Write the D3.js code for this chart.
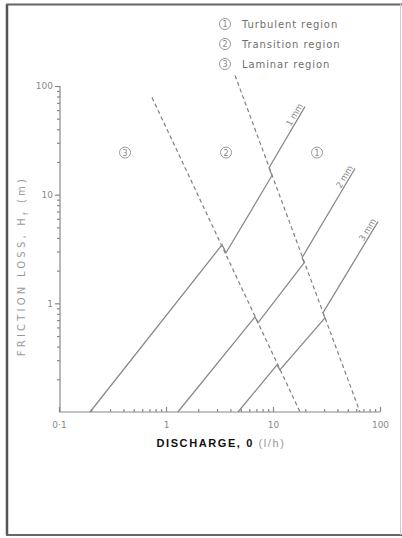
<!DOCTYPE html>
<meta charset="utf-8">
<script src="https://cdn.jsdelivr.net/npm/d3@7"></script>
<style>
body { margin: 0; background: #fff; }
text { font-family: "DejaVu Sans", sans-serif; fill: #777; }
.pipe { fill: none; stroke: #8a8a8a; stroke-width: 1.3px; }
.bound { fill: none; stroke: #808080; stroke-width: 1.2px; stroke-dasharray: 4,3; }
.axis path, .axis line { stroke: #888; stroke-width: 1.2px; }
.axis text { fill: #8a8a8a; font-size: 9px; font-family: "DejaVu Sans", sans-serif; }
</style>
<body>
<script>

// axis ticks
var xMajor = [0.1, 1, 10, 100];
var xLabels = ["0·1", "1", "10", "100"];
var yMajor = [1, 10, 100];
var yLabels = ["1", "10", "100"];

// pipe curves, [discharge l/h, friction loss m]
var pipe1mm = [[0.195, 0.1], [3.34, 3.46], [3.64, 2.92], [9.79, 15.0], [9.18, 17.7], [19.9, 64.7]];
var pipe2mm = [[1.29, 0.1], [6.79, 0.751], [7.24, 0.661], [19.5, 2.36], [18.7, 2.63], [58.4, 17.4]];
var pipe3mm = [[4.71, 0.1], [10.9, 0.271], [11.6, 0.244], [30.6, 0.735], [29.3, 0.818], [95.8, 5.64]];
var pipeNames = ["1 mm", "2 mm", "3 mm"];

// region boundaries (dashed)
var boundLaminar = [[0.74, 78.3], [17.9, 0.1]];
var boundTurbulent = [[4.42, 125], [65.0, 0.1]];

// region markers in the plot
var regionNums = ["3", "2", "1"];
var regionQ = [0.414, 3.64, 25.8];
var regionH = [24.4, 24.4, 24.4];

var legendNums = ["1", "2", "3"];
var legendText = ["Turbulent region", "Transition region", "Laminar region"];

var width = 402, height = 538;

var svg = d3.select("body").append("svg")
    .attr("width", width)
    .attr("height", height);

// page frame
svg.append("line").attr("x1", 7).attr("y1", 4).attr("x2", 7).attr("y2", 535)
    .style("stroke", "#555").style("stroke-width", 2.5);
svg.append("line").attr("x1", 6).attr("y1", 4.5).attr("x2", 402).attr("y2", 4.5)
    .style("stroke", "#666").style("stroke-width", 2);
svg.append("line").attr("x1", 6).attr("y1", 535).attr("x2", 402).attr("y2", 535)
    .style("stroke", "#666").style("stroke-width", 2);
svg.append("line").attr("x1", 400.5).attr("y1", 4).attr("x2", 400.5).attr("y2", 535)
    .style("stroke", "#ccc").style("stroke-width", 1);

var x = d3.scaleLog().domain([0.1, 100]).range([59, 380]);
var y = d3.scaleLog().domain([0.1, 100]).range([412, 86]);

function minorTicks(lo, hi) {
  var t = [];
  for (var d = lo; d < hi; d *= 10)
    for (var k = 2; k <= 9; k++) t.push(d * k);
  return t;
}

// x axis: ticks pointing up
svg.append("g").attr("class", "axis")
    .attr("transform", "translate(0,412)")
    .call(d3.axisTop(x).tickValues(minorTicks(0.1, 100)).tickSize(3).tickFormat(""))
    .call(function(g) { g.select(".domain").remove(); });
var xg = svg.append("g").attr("class", "axis")
    .attr("transform", "translate(0,412)")
    .call(d3.axisBottom(x).tickValues(xMajor).tickSize(0).tickPadding(10)
      .tickFormat(function(d, i) { return xLabels[i]; }));
xg.select(".domain").attr("d", "M59,0H380");
xg.selectAll(".tick").append("line").attr("y2", -5);

// y axis: ticks pointing left
svg.append("g").attr("class", "axis")
    .attr("transform", "translate(60,0)")
    .call(d3.axisLeft(y).tickValues(minorTicks(0.1, 100)).tickSize(3).tickFormat(""))
    .call(function(g) { g.select(".domain").remove(); });
var yg = svg.append("g").attr("class", "axis")
    .attr("transform", "translate(60,0)")
    .call(d3.axisLeft(y).tickValues(yMajor).tickSize(5).tickPadding(2)
      .tickFormat(function(d, i) { return yLabels[i]; }));
yg.select(".domain").attr("d", "M0,86V412");

// axis titles
svg.append("text")
    .attr("transform", "translate(25,266) rotate(-90)")
    .attr("text-anchor", "middle")
    .style("font-size", "10px")
    .style("letter-spacing", "3.2px")
    .style("fill", "#999")
    .text("FRICTION LOSS, H")
    .append("tspan").attr("dy", 3).style("font-size", "7px").text("f")
    .select(function() { return this.parentNode; })
    .append("tspan").attr("dy", -3).text(" (m)");

var xt = svg.append("text")
    .attr("x", 221).attr("y", 447)
    .attr("text-anchor", "middle")
    .style("font-family", "'Liberation Sans', Arial, sans-serif")
    .style("font-size", "11px")
    .style("letter-spacing", "1.6px");
xt.append("tspan").style("font-weight", "bold").style("fill", "#111").text("DISCHARGE,  0 ");
xt.append("tspan").style("fill", "#999").text("(l/h)");

var line = d3.line()
    .x(function(d) { return x(d[0]); })
    .y(function(d) { return y(d[1]); });

// region boundaries
svg.selectAll("path.bound")
    .data([boundLaminar, boundTurbulent])
    .enter().append("path")
    .attr("class", "bound")
    .attr("d", line);

// pipe curves
var pipes = [pipe1mm, pipe2mm, pipe3mm];
svg.selectAll("path.pipe")
    .data(pipes)
    .enter().append("path")
    .attr("class", "pipe")
    .attr("d", line);

// pipe labels along the end of each line
pipes.forEach(function(p, i) {
  var a = p[p.length - 2], b = p[p.length - 1];
  var ang = Math.atan2(y(b[1]) - y(a[1]), x(b[0]) - x(a[0])) * 180 / Math.PI;
  svg.append("text")
      .attr("transform", "translate(" + x(b[0]) + "," + y(b[1]) + ") rotate(" + ang + ")")
      .attr("text-anchor", "end")
      .attr("dy", -2)
      .style("font-size", "8.5px")
      .style("fill", "#888")
      .text(pipeNames[i]);
});

function circled(g, cx, cy, n) {
  g.append("circle").attr("cx", cx).attr("cy", cy).attr("r", 5.5)
      .style("fill", "none").style("stroke", "#999").style("stroke-width", 1);
  g.append("text").attr("x", cx).attr("y", cy + 3)
      .attr("text-anchor", "middle")
      .style("font-size", "8px").style("fill", "#888")
      .text(n);
}

// region markers
regionNums.forEach(function(n, i) {
  circled(svg, x(regionQ[i]), y(regionH[i]), n);
});

// legend
legendText.forEach(function(t, i) {
  var ly = 24 + i * 20;
  circled(svg, 225, ly, legendNums[i]);
  svg.append("text")
      .attr("x", 242).attr("y", ly + 3.5)
      .style("font-size", "10px")
      .style("letter-spacing", "0.9px")
      .style("fill", "#6f6f6f")
      .text(t);
});

</script>
</body>
</html>
